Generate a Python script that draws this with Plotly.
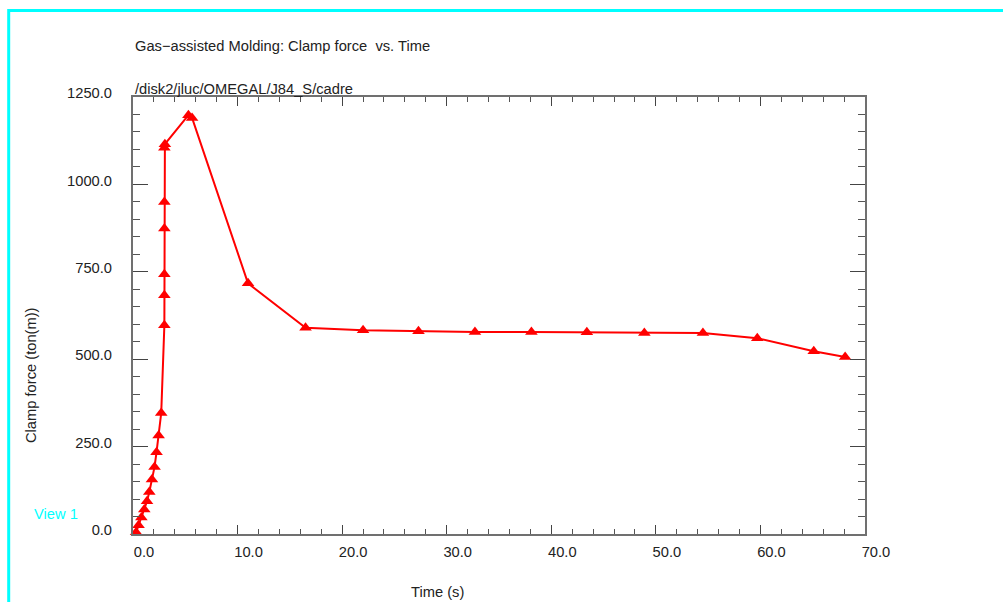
import plotly.graph_objects as go

# Clamp force history of the gas-assisted molding run
time_s = [0.3, 0.53, 0.8, 1.08, 1.34, 1.56, 1.81, 2.06, 2.25, 2.45, 2.7,
          3.0, 3.0, 3.0, 3.0, 3.0, 3.0, 3.05,
          5.3, 5.65, 11.0, 16.5, 22.0, 27.3, 32.7, 38.1, 43.4, 48.9,
          54.5, 59.7, 65.1, 68.1]
clamp_force = [5, 25, 47, 70, 94, 120, 156, 192, 234, 282, 346,
               597, 683, 743, 874, 950, 1105, 1115,
               1198, 1190, 717, 590, 583, 580, 578, 578, 577, 575,
               575, 560, 523, 506]

x_ticks = [0, 10, 20, 30, 40, 50, 60, 70]
y_ticks = [0, 250, 500, 750, 1000, 1250]

FONT = "Liberation Sans, Arial, sans-serif"
FS = 14.7
TEXT = "#222222"
AXIS = "#707070"
CYAN = "#00ffff"

fig = go.Figure()
fig.add_trace(go.Scatter(
    x=time_s, y=clamp_force, mode="lines+markers",
    line=dict(color="#ff0000", width=2),
    marker=dict(symbol="triangle-up", size=11, color="#ff0000"),
    cliponaxis=False, showlegend=False,
))

axis_common = dict(
    showgrid=False, zeroline=False, showline=True, linecolor=AXIS, linewidth=2,
    mirror="ticks", ticks="inside", tickcolor="#444444", tickwidth=1,
    tickformat=".1f", tickfont=dict(family=FONT, size=FS, color=TEXT),
)

fig.update_xaxes(
    **axis_common, range=[0, 70], tickvals=x_ticks, ticklen=9,
    minor=dict(dtick=2, ticks="inside", ticklen=5, tickcolor="#555555"),
    ticklabelshift=11, ticklabelstandoff=3,
)
fig.update_yaxes(
    **axis_common, range=[0, 1250], tickvals=y_ticks, ticklen=15,
    minor=dict(dtick=50, ticks="inside", ticklen=7, tickcolor="#555555"),
    ticklabelshift=-4, ticklabelstandoff=16,
)

L, R, T, B = 133, 138, 97, 68
W, H = 1003, 602
pw, ph = W - L - R, H - T - B


def px(xp):
    return (xp - L) / pw


def py(yp):
    return (H - B - yp) / ph


annotations = [
    dict(text="Gas\u2212assisted Molding: Clamp force  vs. Time",
         x=px(133), y=py(46), xanchor="left", yanchor="middle"),
    dict(text="/disk2/jluc/OMEGAL/J84_S/cadre",
         x=px(133), y=py(89), xanchor="left", yanchor="middle"),
    dict(text="Time (s)", x=px(437), y=py(592), xanchor="center", yanchor="middle"),
    dict(text="Clamp force (ton(m))", x=px(31), y=py(376), textangle=-90,
         xanchor="center", yanchor="middle"),
    dict(text="View 1", x=px(32), y=py(514), xanchor="left", yanchor="middle",
         font=dict(family=FONT, size=FS, color=CYAN)),
]
for a in annotations:
    a.setdefault("font", dict(family=FONT, size=FS, color=TEXT))
    a.update(xref="paper", yref="paper", showarrow=False)

# Viewport frame
fig.add_shape(type="rect", xref="paper", yref="paper",
              x0=px(8.7), x1=px(1020), y0=py(620), y1=py(10.5),
              line=dict(color=CYAN, width=3), fillcolor="rgba(0,0,0,0)",
              layer="above")

fig.update_layout(
    width=W, height=H,
    margin=dict(l=L, r=R, t=T, b=B),
    paper_bgcolor="white", plot_bgcolor="white",
    annotations=annotations,
    font=dict(family=FONT, size=FS, color=TEXT),
)

fig.write_html("out.html")
